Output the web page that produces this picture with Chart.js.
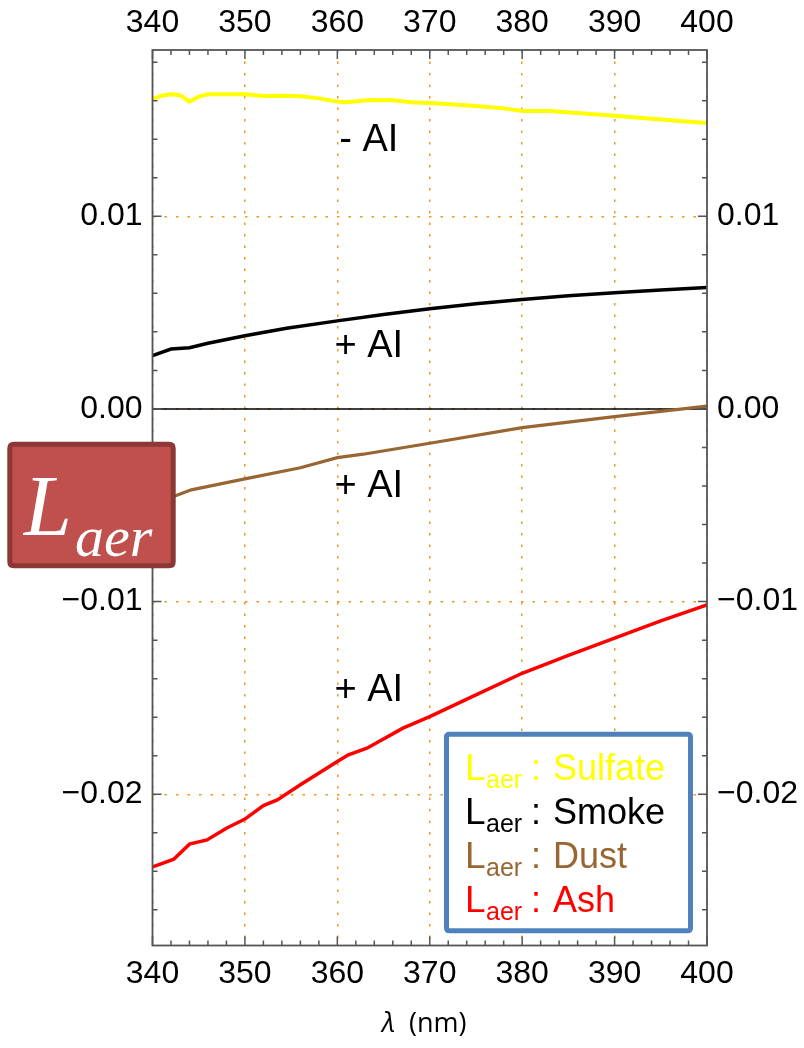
<!DOCTYPE html>
<html>
<head>
<meta charset="utf-8">
<script src="https://cdn.jsdelivr.net/npm/chart.js@4"></script>
<style>
  html, body { margin: 0; padding: 0; background: #fff; }
</style>
</head>
<body>
<canvas id="chart" width="804" height="1048"></canvas>
<script>
// axis setup
const xMin = 340, xMax = 400;
const yMin = -0.02785, yMax = 0.01863;
const xTicks = [340, 350, 360, 370, 380, 390, 400];
const yTicks = [-0.02, -0.01, 0, 0.01];
const yTickLabels = ["\u22120.02", "\u22120.01", "0.00", "0.01"];

// series
const sulfateX = [340, 341, 342, 343, 344, 345, 346, 350, 352, 354, 356, 358, 360, 361, 363.5, 366, 368, 370, 375, 378, 380, 383, 390, 395, 400];
const sulfateY = [0.01609, 0.01626, 0.01633, 0.01628, 0.01595, 0.01621, 0.01633, 0.01633, 0.01624, 0.01626, 0.01623, 0.01612, 0.01595, 0.01592, 0.01604, 0.01602, 0.01592, 0.01588, 0.01572, 0.0156, 0.01546, 0.01546, 0.01522, 0.01502, 0.01484];

const smokeX = [340, 342, 344, 346, 350, 354.5, 360, 365, 370, 375, 380, 385, 390, 395, 400];
const smokeY = [0.00277, 0.00311, 0.00318, 0.00341, 0.0038, 0.00419, 0.00457, 0.0049, 0.0052, 0.00546, 0.00568, 0.00587, 0.00603, 0.00617, 0.0063];

const dustX = [340, 342.5, 344.2, 350, 356, 360, 362.8, 370, 380, 390, 400];
const dustY = [-0.0048, -0.00451, -0.0042, -0.00363, -0.00305, -0.00253, -0.00235, -0.00178, -0.00097, -0.0004, 0.00015];

const ashX = [340, 341, 342.3, 344, 345.9, 348, 350, 352, 353.5, 356, 360, 361.2, 363.2, 367.1, 370, 375, 380, 385, 390, 395, 400];
const ashY = [-0.02377, -0.0236, -0.02337, -0.02259, -0.02237, -0.02176, -0.02129, -0.02059, -0.02029, -0.01951, -0.0183, -0.01795, -0.01761, -0.01657, -0.01597, -0.01484, -0.01372, -0.01279, -0.0119, -0.011, -0.01017];

const seriesNames = ["Sulfate", "Smoke", "Dust", "Ash"];
const seriesColors = ["#ffff00", "#000000", "#996633", "#ff0000"];

// text annotations (x in nm, y in data units)
const notes = [
  { text: "- AI", x: 363.4, y: 0.01391 },
  { text: "+ AI", x: 363.4, y: 0.00322 },
  { text: "+ AI", x: 363.4, y: -0.00405 },
  { text: "+ AI", x: 363.4, y: -0.01461 },
];

const SANS = "'Liberation Sans', Arial, sans-serif";
const SERIF = "'Liberation Serif', 'Times New Roman', serif";
const GRID = "#f7941d";
const FRAME = "#555555";

function toPoints(xs, ys) {
  return xs.map((x, i) => ({ x: x, y: ys[i] }));
}

function lineSet(label, xs, ys, color, width) {
  return {
    label: label,
    data: toPoints(xs, ys),
    borderColor: color,
    borderWidth: width,
    pointRadius: 0,
    tension: 0,
    fill: false,
  };
}

function roundRect(ctx, x, y, w, h, r) {
  ctx.beginPath();
  ctx.moveTo(x + r, y);
  ctx.lineTo(x + w - r, y);
  ctx.quadraticCurveTo(x + w, y, x + w, y + r);
  ctx.lineTo(x + w, y + h - r);
  ctx.quadraticCurveTo(x + w, y + h, x + w - r, y + h);
  ctx.lineTo(x + r, y + h);
  ctx.quadraticCurveTo(x, y + h, x, y + h - r);
  ctx.lineTo(x, y + r);
  ctx.quadraticCurveTo(x, y, x + r, y);
  ctx.closePath();
}

const decor = {
  id: "decor",
  beforeDatasetsDraw(chart) {
    const { ctx, chartArea: a, scales } = chart;
    const y0 = scales.y.getPixelForValue(0);
    ctx.save();
    ctx.strokeStyle = "#000";
    ctx.lineWidth = 1.4;
    ctx.beginPath();
    ctx.moveTo(a.left, y0);
    ctx.lineTo(a.right, y0);
    ctx.stroke();
    ctx.restore();
  },
  afterDatasetsDraw(chart) {
    const { ctx, chartArea: a, scales } = chart;
    const xs = scales.x, ys = scales.y;
    ctx.save();

    // inward tick marks on all four sides
    ctx.strokeStyle = FRAME;
    ctx.lineWidth = 1.5;
    ctx.beginPath();
    for (let v = xMin; v <= xMax; v += 2) {
      const px = xs.getPixelForValue(v);
      const len = v % 10 === 0 ? 9 : 5;
      ctx.moveTo(px, a.bottom);
      ctx.lineTo(px, a.bottom - len);
      ctx.moveTo(px, a.top);
      ctx.lineTo(px, a.top + len);
    }
    for (let k = -13; k <= 9; k++) {
      const py = ys.getPixelForValue(k * 0.002);
      const len = k % 5 === 0 ? 9 : 5;
      ctx.moveTo(a.left, py);
      ctx.lineTo(a.left + len, py);
      ctx.moveTo(a.right, py);
      ctx.lineTo(a.right - len, py);
    }
    ctx.stroke();

    // frame
    ctx.lineWidth = 1.8;
    ctx.strokeRect(a.left, a.top, a.right - a.left, a.bottom - a.top);

    // annotations
    ctx.fillStyle = "#000";
    ctx.font = "38px " + SANS;
    ctx.textAlign = "center";
    ctx.textBaseline = "middle";
    notes.forEach((n) => {
      ctx.fillText(n.text, xs.getPixelForValue(n.x), ys.getPixelForValue(n.y));
    });

    // axis title
    ctx.textAlign = "left";
    ctx.textBaseline = "alphabetic";
    ctx.font = "italic 27px 'Open Sans', sans-serif";
    ctx.fillText("\u03bb", 382, 1032);
    ctx.font = "27px 'Open Sans', sans-serif";
    ctx.fillText("(nm)", 409, 1032);
    ctx.restore();
  },
  afterDraw(chart) {
    const { ctx } = chart;
    ctx.save();

    // legend box
    ctx.fillStyle = "#fff";
    roundRect(ctx, 446.5, 734.2, 244, 196.6, 3);
    ctx.fill();
    ctx.strokeStyle = "#4f81bd";
    ctx.lineWidth = 5;
    ctx.stroke();

    const baselines = [780, 823.5, 867.5, 912];
    ctx.textAlign = "left";
    ctx.textBaseline = "alphabetic";
    seriesNames.forEach((name, i) => {
      const b = baselines[i];
      ctx.fillStyle = seriesColors[i];
      ctx.font = "37px " + SANS;
      ctx.fillText("L", 465, b);
      ctx.font = "25px " + SANS;
      ctx.fillText("aer", 486, b + 8);
      ctx.font = "36px " + SANS;
      ctx.fillText(":", 531, b);
      ctx.fillText(name, 553, b);
    });

    // L_aer label box
    roundRect(ctx, 9.8, 444.2, 163.4, 121.6, 4);
    ctx.fillStyle = "#c0504d";
    ctx.fill();
    ctx.strokeStyle = "#8c3836";
    ctx.lineWidth = 5;
    ctx.stroke();
    ctx.fillStyle = "#fff";
    ctx.font = "italic 86px " + SERIF;
    ctx.fillText("L", 24, 535);
    ctx.font = "italic 58px " + SERIF;
    ctx.fillText("aer", 75, 556);
    ctx.restore();
  },
};

const tickFont = { family: SANS, size: 32 };

new Chart(document.getElementById("chart"), {
  type: "line",
  data: {
    datasets: [
      lineSet("Sulfate", sulfateX, sulfateY, seriesColors[0], 4),
      lineSet("Smoke", smokeX, smokeY, seriesColors[1], 3.5),
      lineSet("Dust", dustX, dustY, seriesColors[2], 3.2),
      lineSet("Ash", ashX, ashY, seriesColors[3], 3.5),
    ],
  },
  options: {
    responsive: false,
    animation: false,
    devicePixelRatio: 1,
    layout: { padding: 0 },
    plugins: { legend: { display: false }, tooltip: { enabled: false } },
    scales: {
      x: {
        type: "linear",
        position: "bottom",
        min: xMin,
        max: xMax,
        afterBuildTicks: (s) => { s.ticks = xTicks.map((v) => ({ value: v })); },
        afterFit: (s) => { s.height = 102.5; },
        ticks: { font: tickFont, color: "#000", padding: 9, maxRotation: 0, autoSkip: false },
        grid: { color: GRID, lineWidth: 1.5, drawTicks: false },
        border: { display: false, dash: [2.5, 9] },
      },
      x2: {
        type: "linear",
        position: "top",
        min: xMin,
        max: xMax,
        afterBuildTicks: (s) => { s.ticks = xTicks.map((v) => ({ value: v })); },
        afterFit: (s) => { s.height = 50; },
        ticks: { font: tickFont, color: "#000", padding: 8, maxRotation: 0, autoSkip: false },
        grid: { drawOnChartArea: false, drawTicks: false },
        border: { display: false },
      },
      y: {
        type: "linear",
        position: "left",
        min: yMin,
        max: yMax,
        afterBuildTicks: (s) => { s.ticks = yTicks.map((v) => ({ value: v })); },
        afterFit: (s) => { s.width = 152.5; },
        ticks: {
          font: tickFont,
          color: "#000",
          padding: 10,
          autoSkip: false,
          callback: (v, i) => yTickLabels[i],
        },
        grid: { color: GRID, lineWidth: 1.5, drawTicks: false },
        border: { display: false, dash: [2.5, 9] },
      },
      y2: {
        type: "linear",
        position: "right",
        min: yMin,
        max: yMax,
        afterBuildTicks: (s) => { s.ticks = yTicks.map((v) => ({ value: v })); },
        afterFit: (s) => { s.width = 97; },
        ticks: {
          font: tickFont,
          color: "#000",
          padding: 10,
          autoSkip: false,
          callback: (v, i) => yTickLabels[i],
        },
        grid: { drawOnChartArea: false, drawTicks: false },
        border: { display: false },
      },
    },
  },
  plugins: [decor],
});
</script>
</body>
</html>
